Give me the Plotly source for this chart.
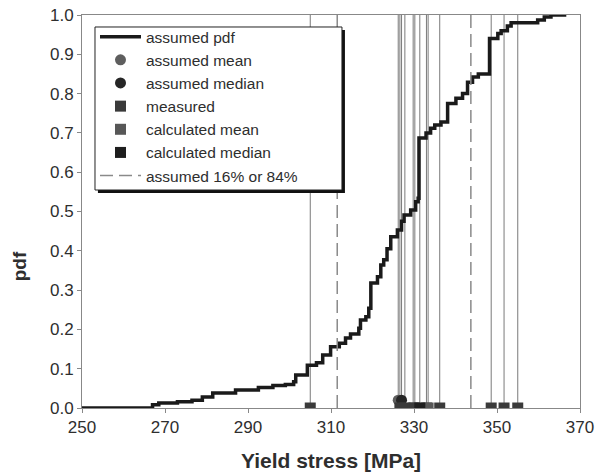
import plotly.graph_objects as go

# CDF ("assumed pdf") step curve
pdf_x = [250, 267, 268.5, 273, 276.5, 279, 281.5, 287, 292.5, 296, 299, 301, 301.5, 304.3,
         306.5, 308, 309.9, 312, 313.5, 314.7, 316.7, 317.1, 318.4, 319.1, 319.6, 321.2, 322,
         322.7, 323.5, 324.4, 326, 327, 327.6, 329.2, 330.4, 331, 331.2, 332.9, 334, 335,
         336.5, 338.1, 340.1, 341.7, 342.9, 344.1, 345.5, 348.2, 350.2, 351, 352.5, 353.4,
         359.8, 361.4, 363, 366.7]
pdf_y = [0.0, 0.008, 0.013, 0.016, 0.02, 0.028, 0.038, 0.046, 0.052, 0.057, 0.06, 0.067, 0.084,
         0.109, 0.115, 0.135, 0.156, 0.165, 0.178, 0.188, 0.203, 0.224, 0.232, 0.254, 0.318,
         0.334, 0.364, 0.377, 0.405, 0.436, 0.453, 0.475, 0.491, 0.504, 0.525, 0.534, 0.687,
         0.70, 0.712, 0.72, 0.728, 0.775, 0.788, 0.80, 0.829, 0.842, 0.85, 0.94, 0.953, 0.96,
         0.972, 0.98, 0.987, 0.995, 1.0, 1.0]

assumed_mean = [326.2]
assumed_median = [327.0]
assumed_marker_y = [0.02]
measured = [305.0, 326.6, 327.8, 329.8, 330.2, 333.0, 336.2, 348.6, 351.7, 355.0]
calc_mean = [333.4]
calc_median = [331.4]
assumed_16_84 = [311.5, 343.7]

x_ticks = [250, 270, 290, 310, 330, 350, 370]
y_ticks = [0.0, 0.1, 0.2, 0.3, 0.4, 0.5, 0.6, 0.7, 0.8, 0.9, 1.0]

FONT = "Liberation Sans, Arial, sans-serif"
TXT = "#2e2e2e"

def vlines(xs):
    vx, vy = [], []
    for v in xs:
        vx += [v, v, None]
        vy += [0, 1, None]
    return vx, vy

fig = go.Figure()

all_vals = measured + calc_mean + calc_median + assumed_mean + assumed_median
lx, ly = vlines(all_vals)
fig.add_trace(go.Scatter(x=lx, y=ly, mode="lines", line=dict(color="#7a7a7a", width=1),
                         showlegend=False, hoverinfo="skip"))

fig.add_trace(go.Scatter(x=pdf_x, y=pdf_y, mode="lines", line=dict(color="#1a1a1a", width=3.5, shape="hv"),
                         name="assumed pdf"))
fig.add_trace(go.Scatter(x=assumed_mean, y=assumed_marker_y, mode="markers",
                         marker=dict(symbol="circle", size=11, color="#5e5e5e"),
                         name="assumed mean"))
fig.add_trace(go.Scatter(x=assumed_median, y=assumed_marker_y, mode="markers",
                         marker=dict(symbol="circle", size=11, color="#262626"),
                         name="assumed median"))
fig.add_trace(go.Scatter(x=measured, y=[0] * len(measured), mode="markers",
                         marker=dict(symbol="square", size=11, color="#3a3a3a"),
                         name="measured"))
fig.add_trace(go.Scatter(x=calc_mean, y=[0], mode="markers",
                         marker=dict(symbol="square", size=11, color="#575757"),
                         name="calculated mean"))
fig.add_trace(go.Scatter(x=calc_median, y=[0], mode="markers",
                         marker=dict(symbol="square", size=11, color="#1e1e1e"),
                         name="calculated median"))
dx, dy = vlines(assumed_16_84)
fig.add_trace(go.Scatter(x=dx, y=dy, mode="lines",
                         line=dict(color="#8a8a8a", width=1.5, dash="13px,6px"),
                         name="assumed 16% or 84%"))

# legend box with drop shadow (legend itself drawn transparent on top)
fig.add_shape(type="rect", xref="paper", yref="paper", x0=0.032, x1=0.528, y0=0.547, y1=0.962,
              fillcolor="#111111", line=dict(width=0), layer="above")
fig.add_shape(type="rect", xref="paper", yref="paper", x0=0.0261, x1=0.522, y0=0.5547, y1=0.9695,
              fillcolor="white", line=dict(width=1, color="#222222"), layer="above")

fig.add_annotation(text="<b>pdf</b>", xref="paper", yref="paper", x=-0.125, y=0.36,
                   xanchor="center", yanchor="middle", textangle=-90, showarrow=False,
                   font=dict(size=19, color=TXT, family=FONT))

fig.update_layout(
    width=598, height=475,
    margin=dict(l=82, r=18, t=15, b=67, autoexpand=False),
    plot_bgcolor="white", paper_bgcolor="white",
    font=dict(family=FONT, size=16, color=TXT),
    showlegend=True,
    legend=dict(x=0.0261, y=0.987, xanchor="left", yanchor="top",
                bgcolor="rgba(0,0,0,0)", borderwidth=0,
                font=dict(size=15.5, color=TXT), itemwidth=41),
    xaxis=dict(range=[250, 370], tickvals=x_ticks, ticks="outside", ticklen=4,
               tickcolor="#888888", showline=True, linecolor="#888888", mirror=True,
               showgrid=False, zeroline=False, automargin=False,
               title=dict(text="<b>Yield stress [MPa]</b>", font=dict(size=21, color=TXT),
                          standoff=16),
               tickfont=dict(size=17, color=TXT)),
    yaxis=dict(range=[0, 1], tickvals=y_ticks, tickformat=".1f", ticks="outside", ticklen=4,
               tickcolor="#888888", showline=True, linecolor="#888888", mirror=True,
               showgrid=False, zeroline=False, automargin=False,
               tickfont=dict(size=17, color=TXT)),
)

fig.write_html("out.html")
